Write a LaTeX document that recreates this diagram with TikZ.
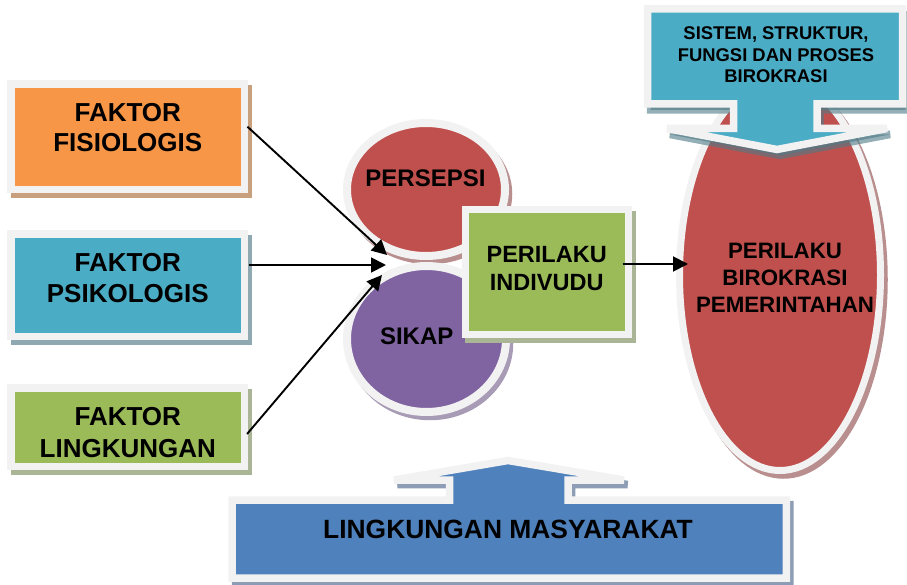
\documentclass[tikz,border=0pt]{standalone}
\usepackage{fontspec}
\setmainfont{Liberation Sans}
\usetikzlibrary{arrows.meta,shapes.geometric}

\definecolor{ringc}{HTML}{F2F2F2}
\definecolor{orangec}{HTML}{F79646}
\definecolor{tealc}{HTML}{4BACC6}
\definecolor{greenc}{HTML}{9BBB59}
\definecolor{redc}{HTML}{C0504D}
\definecolor{purplec}{HTML}{8064A2}
\definecolor{bluec}{HTML}{4F81BD}
\definecolor{orangesh}{HTML}{C9A07E}
\definecolor{tealsh}{HTML}{8EA9B2}
\definecolor{greensh}{HTML}{A9B594}
\definecolor{redsh}{HTML}{B98E8E}
\definecolor{purplesh}{HTML}{A89BB6}
\definecolor{bluesh}{HTML}{8C9DB5}
\definecolor{topsh}{HTML}{4F7A86}

\tikzset{
  framed/.style={draw=ringc, line width=#1, outer sep=0pt, inner sep=0pt},
  framed/.default=7.5pt,
  castshadow/.style={preaction={draw=#1, fill=#1, line width=7.5pt,
      transform canvas={xshift=3.5pt, yshift=-4.5pt}}},
  factorbox/.style={framed, rectangle, minimum width=233.5pt},
  blob/.style={framed=8pt, ellipse},
  lbl/.style={align=center, inner sep=0pt, text=black},
  conn/.style={draw=black, line width=1.9pt,
      -{Triangle[length=15pt, width=15pt]}},
  callout/.style={framed, line join=miter, miter limit=1.5},
}

\begin{document}
\begin{tikzpicture}[x=1pt, y=-1pt]
\useasboundingbox (0,0) rectangle (907,585);

% --- right column: bureaucratic behaviour ellipse and the system callout above it
\node[framed=7pt, ellipse, fill=redc, castshadow=redsh,
      minimum width=201pt, minimum height=391pt] (bir) at (780,275) {};
\draw[callout, fill=tealc,
      preaction={draw=topsh, fill=topsh, line width=7.5pt, opacity=0.6,
                 transform canvas={xshift=3pt, yshift=-6pt}}]
  (647.5,9) -- (902.5,9) -- (902.5,104) -- (817,104) -- (817,128.5)
  -- (887,128.5) -- (777,149.5) -- (667,128.5) -- (733.5,128.5)
  -- (733.5,104) -- (647.5,104) -- cycle;
\node[lbl, font={\fontsize{18.4}{21.5}\selectfont\bfseries}] (sis) at (776,55)
  {SISTEM, STRUKTUR,\\FUNGSI DAN PROSES\\BIROKRASI};
\node[lbl, font={\fontsize{22.3}{27}\selectfont\bfseries}] (tbir) at (785,278)
  {PERILAKU\\BIROKRASI\\PEMERINTAHAN};

% --- left column: the three factors
\node[factorbox, fill=orangec, castshadow=orangesh, minimum height=105.5pt]
  (fis) at (127.75,136.75) {};
\node[factorbox, fill=tealc, castshadow=tealsh, minimum height=102.5pt]
  (psi) at (127.75,285.25) {};
\node[factorbox, fill=greenc, castshadow=greensh, minimum height=78.5pt]
  (lin) at (127.75,427.25) {};
\node[lbl, font={\fontsize{26}{30}\selectfont\bfseries}] (tfis) at (127.75,128)
  {FAKTOR\\FISIOLOGIS};
\node[lbl, font={\fontsize{26}{31}\selectfont\bfseries}] (tpsi) at (127.75,278)
  {FAKTOR\\PSIKOLOGIS};
\node[lbl, font={\fontsize{26}{32}\selectfont\bfseries}] (tlin) at (127.75,432.5)
  {FAKTOR\\LINGKUNGAN};

% --- middle: perception, attitude and individual behaviour
\node[blob, fill=redc, castshadow=redsh,
      minimum width=158pt, minimum height=133pt] (per) at (426,189.5) {};
\node[blob, fill=purplec, castshadow=purplesh,
      minimum width=159pt, minimum height=146pt] (sik) at (426.5,339) {};
\node[lbl, font={\fontsize{24}{28}\selectfont\bfseries}] (tper) at (425.5,178) {PERSEPSI};
\node[lbl, font={\fontsize{24}{28}\selectfont\bfseries}] (tsik) at (416.7,336) {SIKAP};
\node[framed=7pt, rectangle, fill=greenc, castshadow=greensh,
      minimum width=163pt, minimum height=124.5pt] (ind) at (547,272.25) {};
\node[lbl, font={\fontsize{23.5}{28}\selectfont\bfseries}] (tind) at (546.7,268.5)
  {PERILAKU\\INDIVUDU};

% --- connectors
\coordinate (hubA) at (387,255);
\coordinate (hubB) at (386,265);
\coordinate (hubC) at (382,275);
\coordinate (birIn) at (688,264);
\draw[conn, shorten <=4pt] ([yshift=12.75pt]fis.east) -- (hubA);
\draw[conn, shorten <=4pt] ([yshift=20.25pt]psi.east) -- (hubB);
\draw[conn, shorten <=4pt] ([yshift=-9.75pt]lin.east) -- (hubC);
\draw[conn] ([xshift=-6pt, yshift=8.25pt]ind.east) -- (birIn);

% --- bottom: society callout pointing up
\draw[callout, fill=bluec, castshadow=bluesh]
  (232,500) -- (449.7,500) -- (449.7,480) -- (394,480) -- (508,460.5)
  -- (624,480) -- (568,480) -- (568,500) -- (786.4,500) -- (786.4,578)
  -- (232,578) -- cycle;
\node[lbl, font={\fontsize{26.4}{30}\selectfont\bfseries}] (tmas) at (508,529.7)
  {LINGKUNGAN MASYARAKAT};
\end{tikzpicture}
\end{document}
